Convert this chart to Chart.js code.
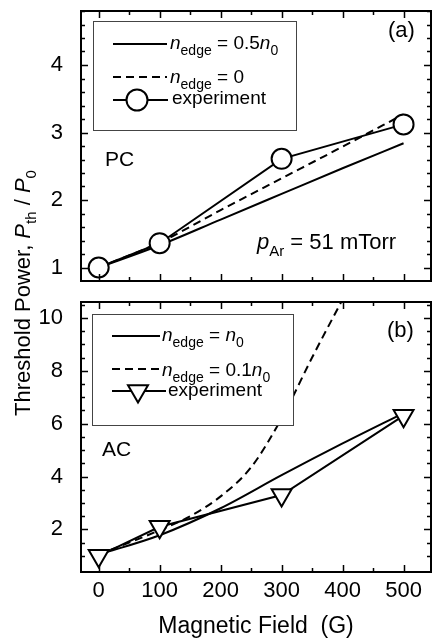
<!DOCTYPE html>
<html>
<head>
<meta charset="utf-8">
<script src="https://cdn.jsdelivr.net/npm/chart.js@4"></script>
<style>
  body { margin: 0; background: #fff; }
  #page { position: relative; width: 432px; height: 643px; font-family: "Liberation Sans", Arial, sans-serif; color: #000; }
  canvas { position: absolute; left: 0; }
  .lbl { position: absolute; white-space: nowrap; line-height: 20px; font-size: 19px; }
  .lbl sub { font-size: 14px; vertical-align: -6px; line-height: 0; }
  .note { position: absolute; white-space: nowrap; font-size: 21px; line-height: 21px; }
  .note sub { font-size: 15px; vertical-align: -7px; line-height: 0; }
  #ytitle { position: absolute; left: 23px; top: 293px; transform: translate(-50%, -50%) rotate(-90deg);
            white-space: nowrap; font-size: 22px; line-height: 22px; }
  #ytitle sub { font-size: 15px; vertical-align: -6px; line-height: 0; }
</style>
</head>
<body>
<div id="page">
  <canvas id="panelA" width="432" height="290" style="top:0"></canvas>
  <canvas id="panelB" width="432" height="353" style="top:290px"></canvas>

  <svg width="432" height="643" style="position:absolute;left:0;top:0">
    <!-- legend (a) -->
    <rect x="93.5" y="21.5" width="203" height="109" fill="#fff" stroke="#444" stroke-width="1"/>
    <line x1="113" y1="44" x2="167" y2="44" stroke="#000" stroke-width="2"/>
    <line x1="113" y1="77" x2="167" y2="77" stroke="#000" stroke-width="2" stroke-dasharray="8 5"/>
    <line x1="113" y1="100" x2="168" y2="100" stroke="#000" stroke-width="2"/>
    <circle cx="137" cy="100" r="10.5" fill="#fff" stroke="#000" stroke-width="2"/>
    <!-- legend (b) -->
    <rect x="92.5" y="314.5" width="201" height="111" fill="#fff" stroke="#444" stroke-width="1"/>
    <line x1="112" y1="336" x2="160" y2="336" stroke="#000" stroke-width="2"/>
    <line x1="112" y1="369" x2="160" y2="369" stroke="#000" stroke-width="2" stroke-dasharray="8 5"/>
    <line x1="112" y1="391" x2="166" y2="391" stroke="#000" stroke-width="2"/>
    <polygon points="138,402.5 128,385.2 148,385.2" fill="#fff" stroke="#000" stroke-width="2"/>
  </svg>

  <div class="lbl" style="left:170px;top:33px"><i>n</i><sub>edge</sub> = 0.5<i>n</i><sub>0</sub></div>
  <div class="lbl" style="left:170px;top:67px"><i>n</i><sub>edge</sub> = 0</div>
  <div class="lbl" style="left:172px;top:88px">experiment</div>

  <div class="lbl" style="left:162px;top:325px"><i>n</i><sub>edge</sub> = <i>n</i><sub>0</sub></div>
  <div class="lbl" style="left:162px;top:360px"><i>n</i><sub>edge</sub> = 0.1<i>n</i><sub>0</sub></div>
  <div class="lbl" style="left:168px;top:380px">experiment</div>

  <div class="note" style="left:388px;top:19px;font-size:22px;line-height:22px">(a)</div>
  <div class="note" style="left:387px;top:319px;font-size:22px;line-height:22px">(b)</div>
  <div class="note" style="left:105px;top:148px">PC</div>
  <div class="note" style="left:102px;top:438px">AC</div>
  <div class="note" style="left:257px;top:231px;font-size:22px;line-height:22px"><i>p</i><sub>Ar</sub> = 51 mTorr</div>

  <div id="ytitle">Threshold Power, <i>P</i><sub>th</sub> / <i>P</i><sub>0</sub></div>
</div>

<script>
// magnetic field (G) and normalised threshold power
const fieldExp = [0, 100, 300, 500];
const fieldModel = [0, 100, 200, 300, 400, 500];

// panel (a): PC
const expA = [1.0, 1.36, 2.61, 3.12];
const halfEdgeA = [1.0, 1.33, 1.71, 2.09, 2.47, 2.84];
const zeroEdgeA = [1.0, 1.37, 1.85, 2.32, 2.79, 3.27];

// panel (b): AC
const expB = [1.0, 2.1, 3.3, 6.3];
const fullEdgeB = [1.05, 1.78, 2.8, 4.05, 5.25, 6.4];
const fieldTenth = [0, 100, 150, 200, 250, 300, 350, 400];
const tenthEdgeB = [1.05, 1.97, 2.5, 3.25, 4.35, 6.2, 8.5, 10.7];

// tick labels
const xTicks = [0, 100, 200, 300, 400, 500];
const yTicksA = [1, 2, 3, 4];
const yTicksB = [2, 4, 6, 8, 10];

const pts = (xs, ys) => xs.map((x, i) => ({ x: x, y: ys[i] }));
const FONT = "'Liberation Sans', Arial, sans-serif";

// box frame + inward ticks on all four sides, major and minor
const frameTicks = {
  id: "frameTicks",
  afterDraw(chart, args, opts) {
    const { ctx, chartArea: a, scales } = chart;
    const x = scales.x, y = scales.y;
    ctx.save();
    ctx.strokeStyle = "#000";
    ctx.lineWidth = 1.5;
    ctx.beginPath();
    const nx = Math.round((opts.xTo - opts.xFrom) / opts.xStep);
    for (let i = 0; i <= nx; i++) {
      const v = opts.xFrom + i * opts.xStep;
      const len = xTicks.includes(v) ? 7 : 4;
      const px = Math.round(x.getPixelForValue(v)) + 0.5;
      ctx.moveTo(px, a.bottom); ctx.lineTo(px, a.bottom - len);
      ctx.moveTo(px, a.top); ctx.lineTo(px, a.top + len);
    }
    const ny = Math.round((opts.yTo - opts.yFrom) / opts.yStep);
    for (let i = 0; i <= ny; i++) {
      const v = +(opts.yFrom + i * opts.yStep).toFixed(3);
      const len = opts.yMajor.includes(v) ? 7 : 4;
      const py = Math.round(y.getPixelForValue(v)) + 0.5;
      ctx.moveTo(a.left, py); ctx.lineTo(a.left + len, py);
      ctx.moveTo(a.right, py); ctx.lineTo(a.right - len, py);
    }
    ctx.stroke();
    ctx.lineWidth = 2;
    ctx.strokeRect(a.left, a.top, a.right - a.left, a.bottom - a.top);
    ctx.restore();
  }
};

const expStyle = (data, pointStyle, radius, rotation) => ({
  data: data,
  borderColor: "#000",
  borderWidth: 2,
  backgroundColor: "#fff",
  pointStyle: pointStyle,
  pointRadius: radius,
  pointHoverRadius: radius,
  pointRotation: rotation,
  pointBorderWidth: 2,
  tension: 0,
  clip: 20
});

const modelStyle = (data, dash) => ({
  data: data,
  borderColor: "#000",
  borderWidth: 2,
  borderDash: dash,
  pointRadius: 0,
  cubicInterpolationMode: "monotone",
  clip: 1
});

// no label overhang padding: the plot box is placed by layout.padding alone
const noOverhang = s => { s.paddingTop = 0; s.paddingBottom = 0; s.paddingLeft = 0; s.paddingRight = 0; };

const yScale = (min, max, ticks) => ({
  type: "linear",
  min: min,
  max: max,
  grid: { display: false },
  border: { display: false },
  afterBuildTicks: s => { s.ticks = ticks.map(v => ({ value: v })); },
  afterFit: s => { s.width = 81; noOverhang(s); },
  ticks: { color: "#000", padding: 10, font: { family: FONT, size: 22 } }
});

window.onload = () => {
  Chart.defaults.animation = false;

  new Chart(document.getElementById("panelA").getContext("2d"), {
    type: "line",
    data: {
      datasets: [
        expStyle(pts(fieldExp, expA), "circle", 10, 0),
        modelStyle(pts(fieldModel, halfEdgeA), []),
        modelStyle(pts(fieldModel, zeroEdgeA), [8, 5])
      ]
    },
    options: {
      responsive: false,
      layout: { autoPadding: false, padding: { top: 11, right: 1, bottom: 9, left: 0 } },
      plugins: {
        legend: { display: false },
        tooltip: { enabled: false },
        frameTicks: { xFrom: 0, xTo: 500, xStep: 50, yFrom: 1, yTo: 4.8, yStep: 0.2, yMajor: yTicksA }
      },
      scales: {
        x: { type: "linear", min: -29, max: 545, display: false },
        y: yScale(0.8, 4.8, yTicksA)
      }
    },
    plugins: [frameTicks]
  });

  new Chart(document.getElementById("panelB").getContext("2d"), {
    type: "line",
    data: {
      datasets: [
        expStyle(pts(fieldExp, expB), "triangle", 11.5, 180),
        modelStyle(pts(fieldModel, fullEdgeB), []),
        modelStyle(pts(fieldTenth, tenthEdgeB), [8, 5])
      ]
    },
    options: {
      responsive: false,
      layout: { autoPadding: false, padding: { top: 12, right: 1, bottom: 0, left: 0 } },
      plugins: {
        legend: { display: false },
        tooltip: { enabled: false },
        frameTicks: { xFrom: 0, xTo: 500, xStep: 50, yFrom: 1, yTo: 10.5, yStep: 0.5, yMajor: yTicksB }
      },
      scales: {
        x: {
          type: "linear",
          min: -29,
          max: 545,
          grid: { display: false, drawTicks: false },
          border: { display: false },
          afterBuildTicks: s => { s.ticks = xTicks.map(v => ({ value: v })); },
          afterFit: s => { s.height = 71; noOverhang(s); },
          ticks: { color: "#000", padding: 6, maxRotation: 0, font: { family: FONT, size: 22 } },
          title: {
            display: true,
            text: "Magnetic Field  (G)",
            color: "#000",
            padding: { top: 0, bottom: 3 },
            font: { family: FONT, size: 23 }
          }
        },
        y: yScale(0.39, 10.6, yTicksB)
      }
    },
    plugins: [frameTicks]
  });
};
</script>
</body>
</html>
